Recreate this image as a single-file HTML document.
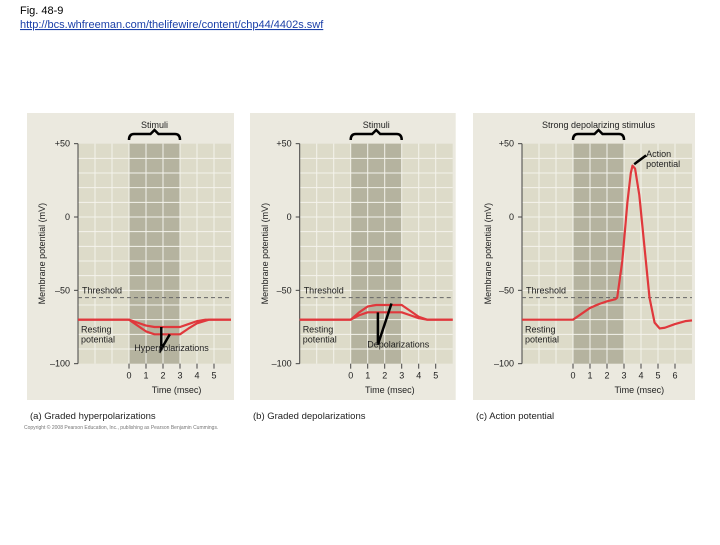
<!DOCTYPE html>
<html><head><meta charset="utf-8"><style>
body{margin:0;background:#fff;width:720px;height:540px;overflow:hidden;font-family:"Liberation Sans",sans-serif}
svg text{font-family:"Liberation Sans",sans-serif}
</style></head><body>
<svg width="720" height="540" xmlns="http://www.w3.org/2000/svg">
<text x="20" y="14" font-size="11" fill="#000">Fig. 48-9</text>
<text x="20" y="28" font-size="11" fill="#1a3fa8" text-decoration="underline">http://bcs.whfreeman.com/thelifewire/content/chp44/4402s.swf</text>
<g id="panels"></g>
<text x="24" y="429" font-size="5" fill="#777">Copyright © 2008 Pearson Education, Inc., publishing as Pearson Benjamin Cummings.</text>
</svg>
<script>
const yTicks=[50,0,-50,-100];
const yLabels=["+50","0","\u201350","\u2013100"];
const xTicksA=[0,1,2,3,4,5];
const xTicksC=[0,1,2,3,4,5,6];
const hypUpper=[[-3,-70],[0,-70],[0.5,-72],[1,-74],[1.5,-75],[3,-75],[3.5,-73],[4,-71],[4.5,-70],[6,-70]];
const hypLower=[[-3,-70],[0,-70],[0.5,-74],[1,-78],[1.5,-80],[3,-80],[3.5,-76],[4,-72.5],[4.7,-70],[6,-70]];
const depUpper=[[-3,-70],[0,-70],[0.5,-65],[1,-61],[1.5,-60],[3,-60],[3.5,-64],[4,-68],[4.5,-70],[6,-70]];
const depLower=[[-3,-70],[0,-70],[0.5,-67],[1,-65],[3,-65],[3.5,-67],[4,-69],[4.5,-70],[6,-70]];
const apCurve=[[-3,-70],[0,-70],[0.5,-66],[1,-62],[1.5,-59.5],[2,-57.5],[2.5,-56],[2.6,-55],[2.9,-30],[3.2,10],[3.4,30],[3.5,35],[3.65,33],[3.9,15],[4.2,-20],[4.5,-55],[4.8,-72],[5.1,-76],[5.4,-75.5],[6,-73],[6.6,-71],[7,-70.5]];
const threshold=-55;
const NS="http://www.w3.org/2000/svg";
const root=document.getElementById('panels');
function el(tag,attrs,parent){const e=document.createElementNS(NS,tag);for(const k in attrs)e.setAttribute(k,attrs[k]);(parent||root).appendChild(e);return e;}
function panel(cfg){
  const g=el('g',{});
  
  
  const x=t=>cfg.x0+t*17;
  const y=v=>217-v*1.4667;
  const left=x(-3),right=x(cfg.tmax);
  el('rect',{x:cfg.boxL,y:113,width:right+3-cfg.boxL,height:287,fill:'#ebe9df'},g);
  el('rect',{x:left,y:y(50),width:right-left,height:y(-100)-y(50),fill:'#dddbc9'},g);
  el('rect',{x:x(0),y:y(50),width:x(3)-x(0),height:y(-100)-y(50),fill:'#b5b39f'},g);
  for(let v=40;v>-100;v-=10){el('line',{x1:left,x2:right,y1:y(v),y2:y(v),stroke:'#f4f3ec','stroke-width':1},g);}
  for(let t=-2;t<cfg.tmax;t++){el('line',{x1:x(t),x2:x(t),y1:y(50),y2:y(-100),stroke:'#f4f3ec','stroke-width':1},g);}
  el('line',{x1:left,x2:left,y1:y(50),y2:y(-100),stroke:'#444'},g);
  yTicks.forEach((v,i)=>{
    el('line',{x1:left-4,x2:left,y1:y(v),y2:y(v),stroke:'#444'},g);
    const t=el('text',{x:left-8,y:y(v)+3,'font-size':9,'text-anchor':'end',fill:'#222'},g);t.textContent=yLabels[i];
  });
  cfg.xt.forEach(t=>{
    el('line',{x1:x(t),x2:x(t),y1:y(-100),y2:y(-100)+5,stroke:'#444'},g);
    const tx=el('text',{x:x(t),y:y(-100)+15,'font-size':9,'text-anchor':'middle',fill:'#222'},g);tx.textContent=t;
  });
  const xl=el('text',{x:x(cfg.xlabelAt),y:393,'font-size':9,'text-anchor':'middle',fill:'#222'},g);xl.textContent='Time (msec)';
  
  
  const yl=el('text',{x:0,y:0,'font-size':9,'text-anchor':'middle',fill:'#222',transform:`translate(${cfg.boxL+18},${y(-25)}) rotate(-90)`},g);yl.textContent='Membrane potential (mV)';
  
  
  el('line',{x1:left,x2:right,y1:y(threshold),y2:y(threshold),stroke:'#666','stroke-dasharray':'4,3'},g);
  const th=el('text',{x:left+4,y:y(threshold)-4,'font-size':9,fill:'#222'},g);th.textContent='Threshold';
  const r1=el('text',{x:left+3,y:y(-70)+13,'font-size':9,fill:'#222'},g);r1.textContent='Resting';
  const r2=el('text',{x:left+3,y:y(-70)+23,'font-size':9,fill:'#222'},g);r2.textContent='potential';
  cfg.series.forEach((s,i)=>{
    const p=el('polyline',{points:s.map(d=>x(d[0])+','+y(d[1])).join(' '),fill:'none',stroke:'#e0383c','stroke-width':2.2,'stroke-linejoin':'round'},g);
    
    
  });
  const bx0=x(0),bx1=x(3),by=134,mx=(bx0+bx1)/2;
  const br=el('path',{d:`M${bx0},${by+6} Q${bx0},${by} ${bx0+5},${by} L${mx-4},${by} L${mx},${by-4} L${mx+4},${by} L${bx1-5},${by} Q${bx1},${by} ${bx1},${by+6}`,fill:'none',stroke:'#000','stroke-width':2.5},g);
  
  
  const st=el('text',{x:mx,y:128,'font-size':9,'text-anchor':'middle',fill:'#222'},g);st.textContent=cfg.stim;
  
  
  const cap=el('text',{x:cfg.boxL+3,y:419,'font-size':9.5,fill:'#222'},g);cap.textContent=cfg.caption;
  
  
  if(cfg.extra)cfg.extra(g,x,y);
}
panel({name:'panel-a',boxL:27,x0:129,tmax:6,xt:xTicksA,xlabelAt:2.8,series:[hypUpper,hypLower],stim:'Stimuli',caption:'(a) Graded hyperpolarizations',
 extra:(g,x,y)=>{
  el('path',{d:`M${x(1.9)},${y(-75)} L${x(1.9)},${y(-90)} L${x(2.4)},${y(-80)}`,fill:'none',stroke:'#000','stroke-width':2.5},g);
  const t=el('text',{x:x(2.5),y:y(-91.5),'font-size':9,'text-anchor':'middle',fill:'#222'},g);t.textContent='Hyperpolarizations';
 }});
panel({name:'panel-b',boxL:250,x0:350.7,tmax:6,xt:xTicksA,xlabelAt:2.3,series:[depUpper,depLower],stim:'Stimuli',caption:'(b) Graded depolarizations',
 extra:(g,x,y)=>{
  el('path',{d:`M${x(1.6)},${y(-65)} L${x(1.6)},${y(-87)} L${x(2.4)},${y(-59)}`,fill:'none',stroke:'#000','stroke-width':2.5},g);
  const t=el('text',{x:x(2.8),y:y(-89),'font-size':9,'text-anchor':'middle',fill:'#222'},g);t.textContent='Depolarizations';
 }});
panel({name:'panel-c',boxL:473,x0:573,tmax:7,xt:xTicksC,xlabelAt:3.9,series:[apCurve],stim:'Strong depolarizing stimulus',caption:'(c) Action potential',
 extra:(g,x,y)=>{
  el('line',{x1:x(3.6),y1:y(36),x2:x(4.3),y2:y(42),stroke:'#000','stroke-width':2.5},g);
  const t1=el('text',{x:x(4.3),y:y(41),'font-size':9,fill:'#222'},g);t1.textContent='Action';
  const t2=el('text',{x:x(4.3),y:y(34),'font-size':9,fill:'#222'},g);t2.textContent='potential';
 }});
</script>
</body></html>
